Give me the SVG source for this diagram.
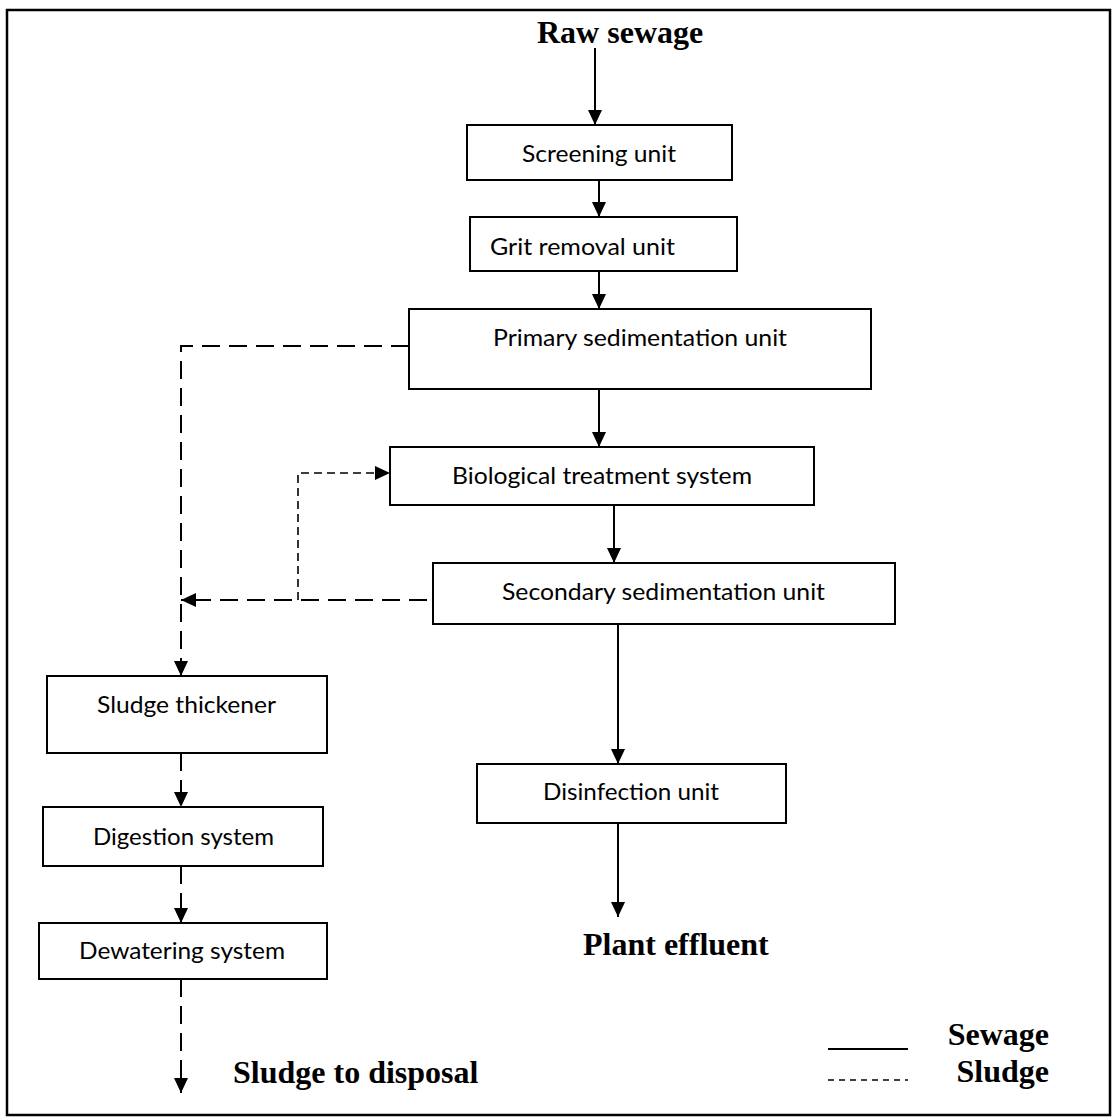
<svg xmlns="http://www.w3.org/2000/svg" width="1112" height="1117" viewBox="0 0 1112 1117">
<style>
.box{fill:#fff;stroke:#000;stroke-width:2}
.lbl{font-family:Lato,"Open Sans",sans-serif;font-size:24px;fill:#000}
.big{font-family:"Liberation Serif","Times New Roman",serif;font-size:32px;font-weight:bold;fill:#000}
.sew{fill:none;stroke:#000;stroke-width:2}
.slg{fill:none;stroke:#000;stroke-width:2;stroke-dasharray:18 9}
.slt{fill:none;stroke:#000;stroke-width:1.6;stroke-dasharray:8 5}
</style>
<defs>
<marker id="ah" markerUnits="userSpaceOnUse" markerWidth="15" markerHeight="14" refX="15" refY="7" orient="auto">
<path d="M0,0 L15,7 L0,14 z" fill="#000"/>
</marker>
</defs>
<rect x="0" y="0" width="1112" height="1117" fill="#fff"/>
<rect x="7" y="10" width="1103" height="1105" fill="none" stroke="#000" stroke-width="2.5"/>

<g id="connectors">
<line class="sew" x1="595" y1="48" x2="595" y2="125" marker-end="url(#ah)"/>
<line class="sew" x1="599" y1="180" x2="599" y2="217" marker-end="url(#ah)"/>
<line class="sew" x1="599" y1="271" x2="599" y2="309" marker-end="url(#ah)"/>
<line class="sew" x1="599" y1="389" x2="599" y2="447" marker-end="url(#ah)"/>
<line class="sew" x1="614" y1="505" x2="614" y2="563" marker-end="url(#ah)"/>
<line class="sew" x1="618" y1="624" x2="618" y2="764" marker-end="url(#ah)"/>
<line class="sew" x1="618" y1="823" x2="618" y2="917" marker-end="url(#ah)"/>
<path class="slg" d="M409,346 H181 V676" marker-end="url(#ah)"/>
<line class="slg" x1="427" y1="600" x2="181" y2="600" marker-end="url(#ah)"/>
<path class="slt" d="M298,600 V473 H390" marker-end="url(#ah)"/>
<line class="slg" x1="181" y1="753" x2="181" y2="807" marker-end="url(#ah)"/>
<line class="slg" x1="181" y1="866" x2="181" y2="923" marker-end="url(#ah)"/>
<line class="slg" x1="181" y1="979" x2="181" y2="1093" marker-end="url(#ah)"/>
</g>

<g id="raw-sewage"><text class="big" x="537" y="43">Raw sewage</text></g>

<g id="screening-unit">
<rect class="box" x="467" y="125" width="265" height="55"/>
<text class="lbl" x="522" y="162" textLength="154" lengthAdjust="spacingAndGlyphs">Screening unit</text>
</g>
<g id="grit-removal-unit">
<rect class="box" x="470" y="217" width="267" height="54"/>
<text class="lbl" x="490" y="255" textLength="185" lengthAdjust="spacingAndGlyphs">Grit removal unit</text>
</g>
<g id="primary-sedimentation-unit">
<rect class="box" x="409" y="309" width="462" height="80"/>
<text class="lbl" x="493" y="346" textLength="294" lengthAdjust="spacingAndGlyphs">Primary sedimentation unit</text>
</g>
<g id="biological-treatment-system">
<rect class="box" x="390" y="447" width="424" height="58"/>
<text class="lbl" x="452" y="484" textLength="300" lengthAdjust="spacingAndGlyphs">Biological treatment system</text>
</g>
<g id="secondary-sedimentation-unit">
<rect class="box" x="433" y="563" width="462" height="61"/>
<text class="lbl" x="502" y="600" textLength="323" lengthAdjust="spacingAndGlyphs">Secondary sedimentation unit</text>
</g>
<g id="disinfection-unit">
<rect class="box" x="477" y="764" width="309" height="59"/>
<text class="lbl" x="543" y="800" textLength="176" lengthAdjust="spacingAndGlyphs">Disinfection unit</text>
</g>
<g id="plant-effluent"><text class="big" x="583" y="955">Plant effluent</text></g>

<g id="sludge-thickener">
<rect class="box" x="47" y="676" width="280" height="77"/>
<text class="lbl" x="97" y="713" textLength="179" lengthAdjust="spacingAndGlyphs">Sludge thickener</text>
</g>
<g id="digestion-system">
<rect class="box" x="43" y="807" width="280" height="59"/>
<text class="lbl" x="93" y="845" textLength="181" lengthAdjust="spacingAndGlyphs">Digestion system</text>
</g>
<g id="dewatering-system">
<rect class="box" x="39" y="923" width="288" height="56"/>
<text class="lbl" x="79" y="959" textLength="206" lengthAdjust="spacingAndGlyphs">Dewatering system</text>
</g>
<g id="sludge-to-disposal"><text class="big" x="233" y="1083">Sludge to disposal</text></g>

<g id="legend">
<line x1="828" y1="1049" x2="908" y2="1049" stroke="#000" stroke-width="2"/>
<line x1="828" y1="1080" x2="908" y2="1080" stroke="#000" stroke-width="1.5" stroke-dasharray="6 5"/>
<text class="big" x="1049" y="1045" text-anchor="end">Sewage</text>
<text class="big" x="1049" y="1082" text-anchor="end">Sludge</text>
</g>
</svg>
